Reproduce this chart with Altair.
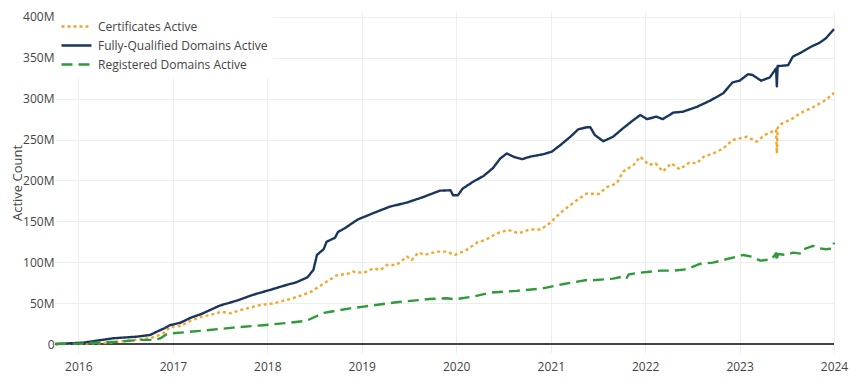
import altair as alt
import pandas as pd

SERIES = ["Certificates Active", "Fully-Qualified Domains Active", "Registered Domains Active"]
COLORS = ["#f5a52b", "#1b365d", "#2f9a3a"]
DASHES = [[3, 3], [1, 0], [11, 6]]

cert_dates = ["2015-10-05", "2016-04-05", "2016-10-05", "2016-11-25", "2016-12-20", "2017-01-30",
              "2017-03-08", "2017-04-16", "2017-05-26", "2017-07-08", "2017-08-10", "2017-10-01",
              "2017-12-05", "2018-01-26", "2018-03-28", "2018-05-18", "2018-06-20", "2018-08-07",
              "2018-09-27", "2018-11-17", "2018-11-28", "2019-01-08", "2019-02-14", "2019-03-14",
              "2019-04-08", "2019-05-15", "2019-06-25", "2019-07-13", "2019-08-08", "2019-09-02",
              "2019-10-20", "2019-11-25", "2019-12-28", "2020-02-10", "2020-03-22", "2020-04-28",
              "2020-06-07", "2020-07-20", "2020-08-29", "2020-10-12", "2020-11-22", "2020-12-28",
              "2021-02-06", "2021-03-18", "2021-04-12", "2021-05-20", "2021-07-05", "2021-08-07",
              "2021-09-13", "2021-10-08", "2021-11-17", "2021-12-13", "2022-01-15", "2022-02-10",
              "2022-03-10", "2022-04-12", "2022-05-15", "2022-06-20", "2022-07-20", "2022-08-15",
              "2022-09-20", "2022-10-30", "2022-12-05", "2023-01-30", "2023-03-08", "2023-04-08",
              "2023-05-22", "2023-05-25", "2023-05-28", "2023-06-05", "2023-07-26", "2023-08-22",
              "2023-10-12", "2023-12-01", "2024-01-01"]
cert_vals = [0, 1, 7, 13, 21, 22,
             28, 33, 35.5, 39.5, 37.5, 42.5,
             47.7, 49.7, 54.7, 60, 64, 74,
             84, 86.5, 88.5, 87, 92.5, 90.5,
             96.6, 96.6, 106.8, 102.7, 112, 109,
             113, 113, 109, 115, 124, 128,
             135.4, 139.5, 135.4, 140, 140, 147.6,
             160, 170, 176, 184, 183.5, 192,
             196.5, 211, 219, 229, 219, 221,
             211, 221, 213.7, 221.8, 221, 229,
             233, 239, 249.5, 253.5, 247.5, 255.6,
             261.8, 233, 264, 268, 276, 282,
             289.5, 298.5, 307]

fqdn_dates = ["2015-10-05", "2016-01-19", "2016-05-15", "2016-08-15", "2016-10-05", "2016-10-30",
              "2016-12-01", "2016-12-20", "2017-01-30", "2017-03-10", "2017-04-27", "2017-07-01",
              "2017-09-05", "2017-11-05", "2018-01-10", "2018-03-03", "2018-04-23", "2018-06-05",
              "2018-06-28", "2018-07-12", "2018-08-07", "2018-08-18", "2018-09-20", "2018-10-01",
              "2018-10-30", "2018-11-17", "2018-12-15", "2019-02-14", "2019-04-20", "2019-06-25",
              "2019-08-25", "2019-10-30", "2019-12-10", "2019-12-20", "2020-01-08", "2020-01-26",
              "2020-03-07", "2020-04-16", "2020-05-22", "2020-06-20", "2020-07-15", "2020-08-10",
              "2020-09-12", "2020-10-12", "2020-12-01", "2021-01-04", "2021-02-06", "2021-03-18",
              "2021-04-17", "2021-05-20", "2021-06-03", "2021-06-20", "2021-07-23", "2021-08-30",
              "2021-10-08", "2021-11-17", "2021-12-13", "2022-01-08", "2022-02-13", "2022-03-10",
              "2022-04-20", "2022-05-26", "2022-07-20", "2022-09-09", "2022-10-30", "2022-12-05",
              "2023-01-01", "2023-02-03", "2023-02-20", "2023-03-25", "2023-04-28", "2023-05-22",
              "2023-05-25", "2023-05-28", "2023-06-05", "2023-07-08", "2023-07-26", "2023-08-22",
              "2023-10-01", "2023-11-07", "2023-12-01", "2024-01-01"]
fqdn_vals = [0, 1.6, 7, 9, 11, 15,
             19.5, 23, 26, 32, 37.5, 47,
             53, 60, 66, 71, 75.5, 81.5,
             90.5, 109, 116, 125, 130, 137,
             142, 146, 152, 160, 168, 173,
             179.5, 187.5, 188, 182, 182, 190,
             198.5, 205.5, 215, 227, 233, 229,
             226, 229, 232, 235, 243, 253.5,
             262.5, 265, 265, 255.6, 248, 253.5,
             264, 274, 280, 275, 278, 275,
             283, 284, 290, 297.6, 306.7, 320,
             322, 330, 329, 322, 326, 337,
             315, 340, 340, 341, 351.5, 355.6,
             363, 368.5, 374, 385]

reg_dates = ["2015-10-05", "2016-01-19", "2016-05-30", "2016-08-28", "2016-10-20", "2016-11-14",
             "2016-12-08", "2016-12-28", "2017-04-16", "2017-08-22", "2017-12-16", "2018-03-28",
             "2018-06-02", "2018-08-07", "2018-09-02", "2018-11-17", "2019-01-08", "2019-05-15",
             "2019-09-20", "2019-11-25", "2019-12-28", "2020-03-07", "2020-05-12", "2020-08-22",
             "2020-12-01", "2021-02-20", "2021-05-20", "2021-06-13", "2021-08-30", "2021-10-15",
             "2021-10-22", "2021-10-29", "2021-12-05", "2022-02-28", "2022-04-20", "2022-06-10",
             "2022-07-31", "2022-09-20", "2022-11-10", "2023-01-15", "2023-02-17", "2023-03-22",
             "2023-05-05", "2023-05-22", "2023-05-25", "2023-05-28", "2023-07-01", "2023-07-26",
             "2023-08-28", "2023-09-05", "2023-10-12", "2023-11-07", "2023-12-01", "2023-12-28",
             "2024-01-01"]
reg_vals = [0, 0.8, 2.8, 5, 5, 7,
            12, 13, 16, 20, 23, 26,
            28.5, 38, 39.5, 43.6, 45.7, 51,
            55, 56, 54.7, 58, 62.8, 65,
            68, 73.4, 78.3, 78, 80, 83,
            81, 85, 87, 89.7, 89.7, 91.4,
            97.9, 99.5, 103.6, 108.9, 106.8, 101.9,
            103.6, 111, 101, 110, 108.9, 111.7,
            110.5, 115.8, 120, 117, 115.8, 117,
            124]

Y_TICKS = [0, 50e6, 100e6, 150e6, 200e6, 250e6, 300e6, 350e6, 400e6]

rows = []
for name, dates, vals in [(SERIES[0], cert_dates, cert_vals),
                          (SERIES[1], fqdn_dates, fqdn_vals),
                          (SERIES[2], reg_dates, reg_vals)]:
    for d, v in zip(dates, vals):
        rows.append({"series": name, "date": d, "value": v * 1e6})
df = pd.DataFrame(rows)

FONT = "Open Sans"
TXT = "#444444"

lines = alt.Chart(df).mark_line(strokeWidth=2.4, strokeCap="butt", strokeJoin="round").encode(
    x=alt.X("date:T", title=None,
            scale=alt.Scale(domain=["2015-10-03", "2024-01-01"]),
            axis=alt.Axis(format="%Y", tickCount={"interval": "year", "step": 1},
                          grid=True, gridColor="#eeeeee", domain=False, ticks=False,
                          labelFlush=False, labelOverlap=False,
                          labelPadding=8, labelFontSize=12, labelColor=TXT, labelFont=FONT)),
    y=alt.Y("value:Q", title="Active Count",
            scale=alt.Scale(domain=[-11e6, 406e6], nice=False, zero=False),
            axis=alt.Axis(values=Y_TICKS,
                          labelExpr="datum.value == 0 ? '0' : format(datum.value / 1e6, 'd') + 'M'",
                          grid=True, gridColor="#eeeeee",
                          domain=False, ticks=False, labelPadding=1, labelFontSize=12,
                          labelColor=TXT, labelFont=FONT, titleFont=FONT, titleFontSize=13,
                          titleFontWeight="normal", titleColor=TXT, titleX=-31)),
    color=alt.Color("series:N", scale=alt.Scale(domain=SERIES, range=COLORS),
                    legend=alt.Legend(title=None, orient="none", legendX=0, legendY=0,
                                      symbolType="stroke", symbolSize=900, symbolStrokeWidth=2.4,
                                      clipHeight=19, rowPadding=0, padding=5, labelOffset=5,
                                      labelFont=FONT, labelFontSize=12, labelColor=TXT,
                                      fillColor="white", labelLimit=400)),
    strokeDash=alt.StrokeDash("series:N", scale=alt.Scale(domain=SERIES, range=DASHES), legend=None),
    order=alt.Order("date:T"),
)

zero = alt.Chart(df).mark_rule(color="#444444", strokeWidth=1.3).encode(y=alt.datum(0))

chart = alt.layer(zero, lines).properties(
    width=779, height=341,
    autosize=alt.AutoSizeParams(type="none"),
    padding={"left": 47, "top": 4, "right": 16, "bottom": 26},
).configure_view(stroke=None)

chart.save("out.html", embed_options={"renderer": "svg", "actions": False})
